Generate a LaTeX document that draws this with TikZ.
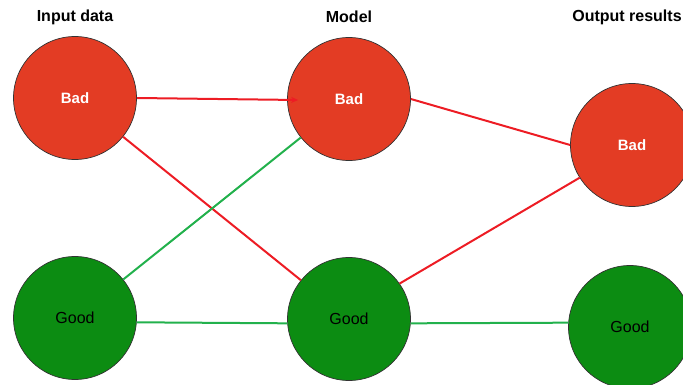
\documentclass[tikz,border=0pt]{standalone}
\usepackage{fontspec}
\setmainfont{Liberation Sans}
\usetikzlibrary{arrows.meta}
\definecolor{badfill}{RGB}{227,60,36}
\definecolor{goodfill}{RGB}{12,140,18}
\definecolor{redline}{RGB}{237,28,36}
\definecolor{greenline}{RGB}{34,177,76}
\begin{document}
\begin{tikzpicture}[x=1pt,y=-1pt,
  ball/.style={circle,draw=black!80,line width=0.7pt,inner sep=0pt,minimum size=123pt},
  badball/.style={ball,fill=badfill,text=white,font=\fontsize{15}{18}\selectfont\bfseries},
  goodball/.style={ball,fill=goodfill,text=black,font=\fontsize{16}{19}\selectfont},
  title/.style={font=\fontsize{16}{19}\selectfont\bfseries,text=black},
  redlink/.style={draw=redline,line width=2pt},
  greenlink/.style={draw=greenline,line width=2pt}]
\useasboundingbox (0,0) rectangle (683,385);
\node[title] (t1) at (75,17) {Input data};
\node[title] (t2) at (349,17) {Model};
\node[title] (t3) at (627,17) {Output results};
\node[badball] (ib) at (75,98) {Bad};
\node[badball] (mb) at (349,99) {Bad};
\node[badball] (ob) at (632,145) {Bad};
\node[goodball] (ig) at (75,318) {Good};
\node[goodball] (mg) at (349,319) {Good};
\node[goodball] (og) at (630,327) {Good};
\coordinate (mbin) at ([xshift=11pt,yshift=-1pt]mb.west);
\draw[redlink,-{Stealth[length=7pt,width=6pt]}] (ib.east) -- (mbin);
\draw[redlink] (ib) -- (mg);
\draw[greenlink] (ig) -- (mb);
\draw[greenlink] (ig.-4) -- (mg.184);
\draw[redlink] (mb.east) -- (ob.west);
\draw[redlink] (mg.35) -- (ob.212);
\draw[greenlink] (mg.-4) -- (og.176);
\end{tikzpicture}
\end{document}
